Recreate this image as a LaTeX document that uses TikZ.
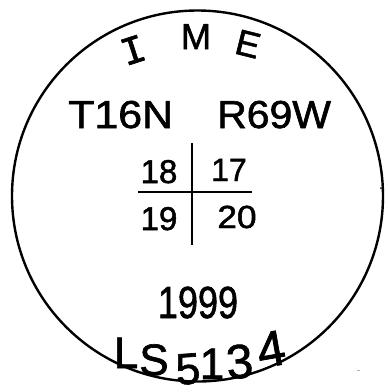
\documentclass[tikz,border=0pt]{standalone}
\usepackage{fontspec}
\setmainfont{Liberation Sans}
\newfontfamily\handfont[FakeBold=1.5]{Liberation Sans}
\newfontfamily\handmono[FakeBold=1.5]{Liberation Mono}
\begin{document}
\begin{tikzpicture}[x=1pt,y=-1pt,
  ink/.style={line width=2.6pt,draw=black},
  hand/.style={inner sep=0pt,anchor=base,text=black},
  lsfont/.style={font=\handfont\fontsize{44}{44}\selectfont}]
\useasboundingbox (0,0) rectangle (388,392);
\node[draw,circle,line width=2.4pt,minimum size=371pt,inner sep=0pt] (ring) at (197.5,196) {};
% top arc text
\node[hand,font=\handmono\fontsize{40}{40}\selectfont,rotate=18,anchor=center] (i) at (133,50) {I};
\node[hand,font=\handfont\fontsize{36}{36}\selectfont] (m) at (196,49) {M};
\node[hand,font=\handfont\fontsize{36}{36}\selectfont,rotate=-14,anchor=center] (e) at (248,44) {E};
% township range
\node[hand,font=\handfont\fontsize{39}{39}\selectfont,anchor=base west,xscale=1.1] (t) at (68,128) {T16N};
\node[hand,font=\handfont\fontsize{39}{39}\selectfont,anchor=base west,xscale=1.05] (r) at (217,128) {R69W};
% section grid
\coordinate (vt) at (192,143);
\coordinate (vb) at (192,245);
\coordinate (hl) at (138,192);
\coordinate (hr) at (252,192);
\draw[ink] (vt) -- (vb);
\draw[ink] (hl) -- (hr);
\node[hand,font=\handfont\fontsize{33}{33}\selectfont] (s18) at (159,183) {18};
\node[hand,font=\handfont\fontsize{32}{32}\selectfont] (s17) at (229,181) {17};
\node[hand,font=\handfont\fontsize{33}{33}\selectfont] (s19) at (159,230) {19};
\node[hand,font=\handfont\fontsize{32}{32}\selectfont,xscale=1.1] (s20) at (237,228) {20};
% year
\node[hand,font=\handfont\fontsize{45}{45}\selectfont,xscale=0.8] (yr) at (198,318) {1999};
% license, letter by letter on a curved line
\node[hand,lsfont] (lsL) at (126,368) {L};
\node[hand,lsfont] (lsS) at (154,375) {S};
\node[hand,lsfont,rotate=4] (ls5) at (189,384) {5};
\node[hand,lsfont] (ls1) at (212,379) {1};
\node[hand,lsfont,font=\handfont\fontsize{48}{48}\selectfont,rotate=5] (ls3) at (241,378) {3};
\node[hand,lsfont,font=\handfont\fontsize{50}{50}\selectfont,rotate=10] (ls4) at (274,366) {4};
% stray marks
\fill (381,188) circle (1pt);
\fill[gray!60] (357,370) rectangle (360,371);
\end{tikzpicture}
\end{document}
